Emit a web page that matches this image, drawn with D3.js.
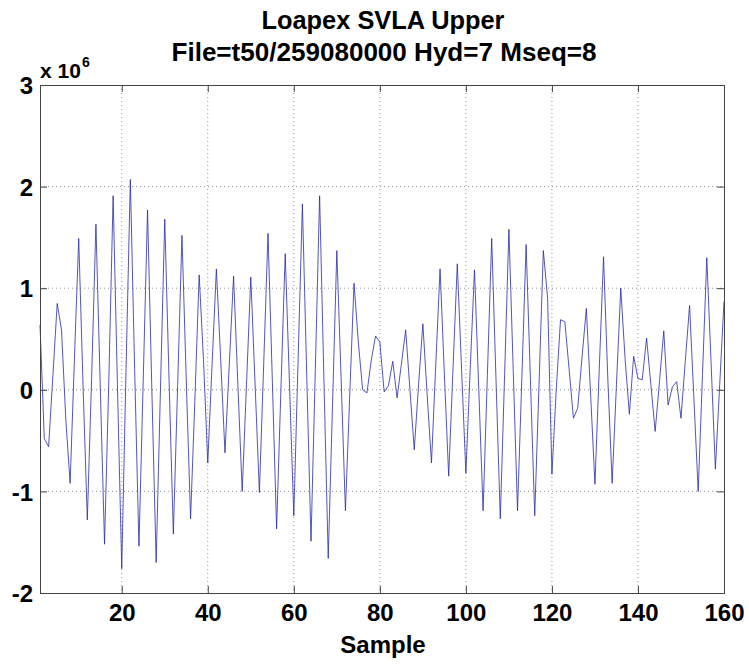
<!DOCTYPE html>
<html><head><meta charset="utf-8">
<script src="https://cdn.jsdelivr.net/npm/d3@7"></script>
<style>body{margin:0;background:#fff}svg text{font-family:"Liberation Sans",Arial,Helvetica,sans-serif;font-weight:bold;fill:#000}</style>
</head><body><svg id="c" width="749" height="664"></svg>
<script>
// Amplitude in units of 1e6, samples 1..160
const values = [
 0.64,-0.48,-0.56,0.14,0.85,0.59,-0.29,-0.92,0.30,1.49,
 0.05,-1.28,0.12,1.63,0.05,-1.52,0.10,1.91,0.05,-1.76,
 0.20,2.07,0.20,-1.54,0.10,1.77,0.00,-1.70,0.00,1.68,
 0.10,-1.42,0.05,1.52,0.10,-1.27,-0.10,1.13,0.30,-0.72,
 0.25,1.19,0.30,-0.62,0.25,1.12,0.05,-1.00,0.05,1.11,
 0.05,-1.01,0.25,1.54,0.10,-1.37,0.00,1.34,0.05,-1.24,
 0.30,1.83,0.15,-1.49,0.20,1.91,0.10,-1.66,-0.15,1.37,
 0.10,-1.19,-0.05,1.05,0.47,0.00,-0.03,0.29,0.53,0.47,
 -0.02,0.04,0.28,-0.08,0.25,0.59,0.00,-0.59,0.05,0.65,
 -0.05,-0.72,0.25,1.19,0.15,-0.85,0.20,1.24,0.20,-0.82,
 0.20,1.18,0.00,-1.19,0.15,1.49,0.10,-1.27,0.15,1.58,
 0.20,-1.19,0.10,1.43,0.10,-1.24,0.05,1.37,0.90,-0.83,
 0.00,0.69,0.67,0.20,-0.28,-0.18,0.32,0.80,-0.05,-0.93,
 0.20,1.31,0.10,-0.92,0.05,1.00,0.31,-0.24,0.33,0.11,
 0.10,0.51,0.05,-0.41,0.08,0.58,-0.15,0.03,0.08,-0.28,
 0.28,0.83,-0.08,-1.00,0.15,1.30,0.26,-0.78,0.05,0.87
];
const samples = d3.range(1, values.length + 1);
const xTicks = [20,40,60,80,100,120,140,160];
const yTicks = [-2,-1,0,1,2,3];
const titleLines = ["Loapex SVLA Upper", "File=t50/259080000 Hyd=7 Mseq=8"];
const xLabel = "Sample";

const svg = d3.select("#c");
const L = 40, R = 724, T = 85, B = 593;
const x = d3.scaleLinear().domain([1,160]).range([L,R]);
const y = d3.scaleLinear().domain([-2,3]).range([B,T]);

// grid
const g = svg.append("g");
g.selectAll(".vg").data(xTicks.filter(d=>d<160)).enter().append("line")
  .attr("x1",d=>x(d)).attr("x2",d=>x(d)).attr("y1",T).attr("y2",B)
  .attr("stroke","#777").attr("stroke-width",0.8).attr("stroke-dasharray","1,3");
g.selectAll(".hg").data(yTicks.filter(d=>d>-2&&d<3)).enter().append("line")
  .attr("x1",L).attr("x2",R).attr("y1",d=>y(d)).attr("y2",d=>y(d))
  .attr("stroke","#777").attr("stroke-width",0.8).attr("stroke-dasharray","1,3");

// line
const line = d3.line().x((d,i)=>x(samples[i])).y(d=>y(d));
svg.append("path").datum(values).attr("d",line).attr("fill","none")
  .attr("stroke","#2a2aa8").attr("stroke-width",0.8);

// axes (box with inward ticks)
const tl = 7;
const fmt = d => String(d);
const axB = d3.axisBottom(x).tickValues(xTicks).tickSize(-tl).tickFormat(fmt);
const axL = d3.axisLeft(y).tickValues(yTicks).tickSize(-tl).tickFormat(fmt);
const axT = d3.axisTop(x).tickValues(xTicks).tickSize(-tl).tickFormat("");
const axR = d3.axisRight(y).tickValues(yTicks).tickSize(-tl).tickFormat("");
function style(sel){
  sel.selectAll("path").attr("stroke","#444").attr("stroke-width",1);
  sel.selectAll("line").attr("stroke","#444").attr("stroke-width",1);
  sel.selectAll("text").style("font-size","24px").style("font-family","'Liberation Sans',Arial,sans-serif").style("font-weight","bold").attr("fill","#000");
}
const gb = svg.append("g").attr("transform",`translate(0,${B})`).call(axB).call(style);
gb.selectAll("text").attr("y",null).attr("dy",null).attr("transform","translate(0,28)");
const gl = svg.append("g").attr("transform",`translate(${L},0)`).call(axL).call(style);
gl.selectAll("text").attr("x",-7).attr("dy","0.36em");
svg.append("g").attr("transform",`translate(0,${T})`).call(axT).call(style);
svg.append("g").attr("transform",`translate(${R},0)`).call(axR).call(style);

// exponent label
const ex = svg.append("text").attr("x",40).attr("y",78).style("font-size","21px");
ex.append("tspan").text("x 10");
ex.append("tspan").attr("dy",-11).attr("dx",1).style("font-size","14px").text("6");

// titles
svg.append("text").attr("x",383).attr("y",29).attr("text-anchor","middle")
  .style("font-size","25px").attr("textLength",243).attr("lengthAdjust","spacingAndGlyphs").text(titleLines[0]);
svg.append("text").attr("x",384).attr("y",61).attr("text-anchor","middle")
  .style("font-size","25px").attr("textLength",425).attr("lengthAdjust","spacingAndGlyphs").text(titleLines[1]);
svg.append("text").attr("x",383).attr("y",653).attr("text-anchor","middle")
  .style("font-size","24px").text(xLabel);
</script></body></html>
